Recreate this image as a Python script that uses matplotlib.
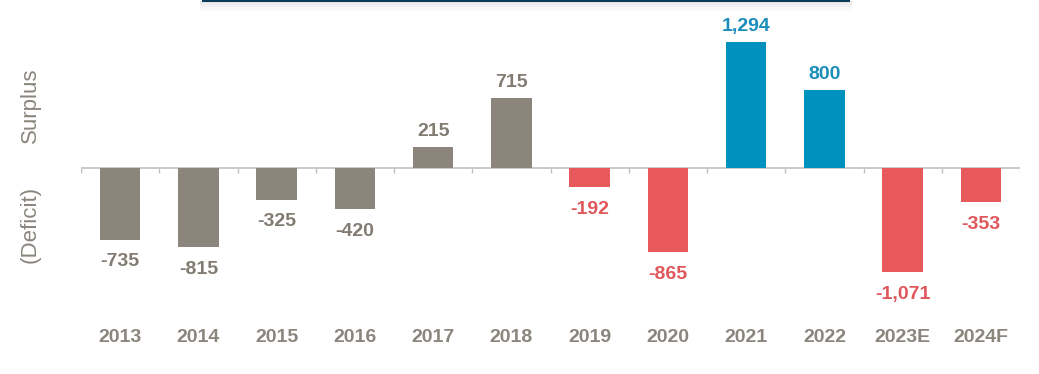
import matplotlib.pyplot as plt
import numpy as np
from matplotlib.patches import Rectangle
import matplotlib.transforms as mtransforms

years = ['2013', '2014', '2015', '2016', '2017', '2018', '2019', '2020',
         '2021', '2022', '2023E', '2024F']
values = [-735, -815, -325, -420, 215, 715, -192, -865, 1294, 800, -1071, -353]
groups = ['hist', 'hist', 'hist', 'hist', 'hist', 'hist', 'def', 'def',
          'sur', 'sur', 'def', 'def']
labels = ['-735', '-815', '-325', '-420', '215', '715', '-192', '-865',
          '1,294', '800', '-1,071', '-353']

bar_col = {'hist': '#8B857B', 'def': '#E8595C', 'sur': '#0091BF'}
txt_col = {'hist': '#817B72', 'def': '#E0575B', 'sur': '#1A8DBB'}
gray = '#8A857D'

plt.rcParams['font.family'] = ['Liberation Sans', 'DejaVu Sans']

fig = plt.figure(figsize=(10.39, 3.74), dpi=100)
ax = fig.add_axes([81 / 1039, 0, (1020 - 81) / 1039, 1])

x = np.arange(len(years))
ax.bar(x, values, width=0.52, color=[bar_col[g] for g in groups], zorder=2)

ax.set_xlim(-0.5, len(years) - 0.5)
ax.set_ylim(-2116, 1725)

# zero line with small ticks between categories
ax.axhline(0, color='#C0C0C0', lw=1.2, zorder=1)
bounds = np.arange(len(years) + 1) - 0.5
ax.vlines(bounds, -55, 0, color='#C0C0C0', lw=1.0, zorder=1)

for xi, v, lab, g in zip(x, values, labels, groups):
    if v >= 0:
        ax.annotate(lab, (xi, v), xytext=(0, 5), textcoords='offset points',
                    ha='center', va='bottom', fontsize=14, fontweight='bold',
                    color=txt_col[g])
    else:
        ax.annotate(lab, (xi, v), xytext=(0, -10), textcoords='offset points',
                    ha='center', va='top', fontsize=14, fontweight='bold',
                    color=txt_col[g])

trans = mtransforms.blended_transform_factory(ax.transData, fig.transFigure)
for xi, yr in zip(x, years):
    ax.text(xi, 1 - 337 / 374, yr, transform=trans, ha='center', va='center',
            fontsize=14, fontweight='bold', color=gray)

ax.axis('off')

fig.text(30 / 1039, 1 - 105 / 374, 'Surplus', rotation=90, ha='center',
         va='center', fontsize=16, color=gray)
fig.text(30 / 1039, 1 - 224 / 374, '(Deficit)', rotation=90, ha='center',
         va='center', fontsize=16, color=gray)

# partial header box at the top
for i, a in enumerate([0.10, 0.07, 0.05, 0.03, 0.02]):
    fig.patches.append(Rectangle((200 / 1039, 1 - (3 + i * 2) / 374), 652 / 1039,
                                 2 / 374, transform=fig.transFigure,
                                 color='black', alpha=a, lw=0))
fig.patches.append(Rectangle((202 / 1039, 1 - 2 / 374), 648 / 1039, 3 / 374,
                             transform=fig.transFigure, color='#0D3B5C', lw=0))

fig.savefig('out.png', dpi=100)
